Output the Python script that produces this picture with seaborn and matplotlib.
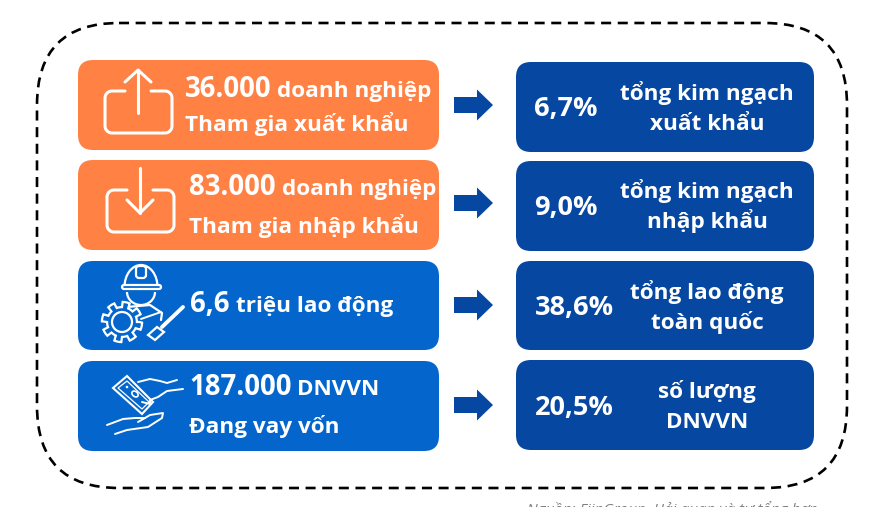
import numpy as np
import seaborn as sns
import matplotlib.pyplot as plt
from matplotlib.patches import FancyBboxPatch, FancyArrow, Circle, Polygon, Arc, Ellipse

# ---------------------------data-----------------------------------
left_big = ['36.000', '83.000', '6,6', '187.000']
left_unit = ['doanh nghiệp', 'doanh nghiệp', 'triệu lao động', 'DNVVN']
left_sub = ['Tham gia xuất khẩu', 'Tham gia nhập khẩu', '', 'Đang vay vốn']
pct = ['6,7%', '9,0%', '38,6%', '20,5%']
right_l1 = ['tổng kim ngạch', 'tổng kim ngạch', 'tổng lao động', 'số lượng']
right_l2 = ['xuất khẩu', 'nhập khẩu', 'toàn quốc', 'DNVVN']
source = 'Nguồn: FiinGroup, Hải quan và tự tổng hợp'

ORANGE = '#FF8144'
BLUE = '#0466CC'
NAVY = '#0647A1'

sns.set_theme(style='white')
plt.rcParams['font.family'] = ['Open Sans', 'DejaVu Sans']

fig, ax = plt.subplots(figsize=(8.8, 5.07), dpi=100)
fig.subplots_adjust(0, 0, 1, 1)
ax.set_xlim(0, 880)
ax.set_ylim(507, 0)
sns.despine(ax=ax, left=True, bottom=True)
ax.set_xticks([])
ax.set_yticks([])


def card(x0, y0, x1, y1, color, r=15):
    ax.add_patch(FancyBboxPatch((x0 + r, y0 + r), x1 - x0 - 2 * r, y1 - y0 - 2 * r,
                                boxstyle=f'round,pad={r},rounding_size={r}',
                                fc=color, ec='none', zorder=2))


def stroke(pts, lw=2.0):
    pts = np.array(pts, dtype=float)
    ax.plot(pts[:, 0], pts[:, 1], color='white', lw=lw, solid_capstyle='round',
            solid_joinstyle='round', zorder=4)


def tray(x0, y0, x1, y1, gap0, gap1, r=7, lw=2.2):
    # rounded box with an opening in the top edge for the arrow
    a = np.linspace(0, np.pi / 2, 8)
    pts = [(gap0, y0)]
    pts += [(x0 + r - r * np.sin(t), y0 + r - r * np.cos(t)) for t in a]
    pts += [(x0 + r - r * np.cos(t), y1 - r + r * np.sin(t)) for t in a]
    pts += [(x1 - r + r * np.sin(t), y1 - r + r * np.cos(t)) for t in a]
    pts += [(x1 - r + r * np.cos(t), y0 + r - r * np.sin(t)) for t in a]
    pts += [(gap1, y0)]
    stroke(pts, lw)


# dashed outer frame
r = 82
ax.add_patch(FancyBboxPatch((37 + r, 23 + r), 810 - 2 * r, 465 - 2 * r,
                            boxstyle=f'round,pad={r},rounding_size={r}',
                            fc='none', ec='black', lw=1.9, ls=(0, (3.8, 2.5)), zorder=1))

left_y = [(60, 150), (160, 250), (261, 350), (361, 451)]
right_y = [(62, 152), (161, 251), (261, 350), (360, 450)]
left_col = [ORANGE, ORANGE, BLUE, BLUE]
text_x = [185, 189, 190, 189]
big_base = [97, 195, 312, 395]
sub_base = [131, 233, 0, 433]
unit_x = [277, 282, 236, 297]
arrow_y = [105, 203, 305, 405]
pct_x = [566, 566, 574, 574]
pct_base = [116, 215, 315, 415]
l1_base = [100, 198, 299, 398]
l2_base = [130, 228, 329, 428]

for i in range(4):
    card(78, left_y[i][0], 439, left_y[i][1], left_col[i])
    card(516, right_y[i][0], 814, right_y[i][1], NAVY)
    ax.text(text_x[i], big_base[i], left_big[i], color='white', fontsize=19.8, fontweight='bold',
            va='baseline', ha='left', zorder=5)
    ax.text(unit_x[i], big_base[i], left_unit[i], color='white', fontsize=16.2, fontweight='bold',
            va='baseline', ha='left', zorder=5)
    if left_sub[i]:
        ax.text(text_x[i], sub_base[i], left_sub[i], color='white', fontsize=16.2, fontweight='bold',
                va='baseline', ha='left', zorder=5)
    ax.add_patch(FancyArrow(454, arrow_y[i], 39, 0, width=16, head_width=31, head_length=16,
                            length_includes_head=True, fc=NAVY, ec='none', zorder=3))
    ax.text(pct_x[i], pct_base[i], pct[i], color='white', fontsize=19.5,
            fontweight='bold', va='baseline', ha='center', zorder=5)
    ax.text(707, l1_base[i], right_l1[i], color='white', fontsize=16.2, fontweight='bold',
            va='baseline', ha='center', zorder=5)
    ax.text(707, l2_base[i], right_l2[i], color='white', fontsize=16.2, fontweight='bold',
            va='baseline', ha='center', zorder=5)

ax.text(672, 514, source, color='#7f7f7f', fontsize=11, style='italic', ha='center', va='baseline',
        zorder=5)

# ---------------------------icons-----------------------------------
# upload
tray(105, 91, 172, 133, 125, 151)
stroke([(138, 113), (138, 70)], 2.2)
stroke([(125, 82), (138, 70), (151, 82)], 2.2)
# download
tray(107, 190, 174, 232, 127, 153)
stroke([(140, 213), (140, 168)], 2.2)
stroke([(127, 200), (140, 213), (153, 200)], 2.2)

# worker
ax.add_patch(Arc((141, 287), 33, 44, theta1=180, theta2=360, ec='white', lw=1.6, zorder=4))
ax.add_patch(FancyBboxPatch((122, 285), 39, 4, boxstyle='round,pad=0,rounding_size=2',
                            fc=BLUE, ec='white', lw=1.6, zorder=4))
ax.add_patch(FancyBboxPatch((136, 266), 10, 12, boxstyle='round,pad=0,rounding_size=3',
                            fc=BLUE, ec='white', lw=1.6, zorder=4))
ax.add_patch(Arc((141, 292), 28, 26, theta1=0, theta2=180, ec='white', lw=1.6, zorder=4))
stroke([(127, 307), (150, 305), (162, 313), (161, 320)], 1.6)
stroke([(141, 319), (161, 312)], 1.4)
gear_t = np.linspace(0, 2 * np.pi, 193)
gear_r = 17.5 + 2.6 * np.sign(np.sin(8 * gear_t))
ax.fill(122 + gear_r * np.cos(gear_t), 322 + gear_r * np.sin(gear_t), fc=BLUE, ec='white', lw=1.6, zorder=4)
ax.add_patch(Circle((122, 322), 10, fc=BLUE, ec='white', lw=1.6, zorder=5))
stroke([(183, 307), (162, 327)], 2.8)
ax.add_patch(Polygon([(148, 335), (157, 327), (164, 332), (155, 340)], closed=True,
                     fc=BLUE, ec='white', lw=1.6, zorder=5))

# money and hands
ax.add_patch(Polygon([(127, 376), (153, 402), (142, 414), (113, 388)], closed=True,
                     fc='none', ec='white', lw=1.5, zorder=4))
ax.add_patch(Polygon([(127, 381), (149, 402), (142, 409), (118, 388)], closed=True,
                     fc='none', ec='white', lw=0.9, zorder=4))
ax.add_patch(Ellipse((135, 394), 7, 5, angle=40, fc='none', ec='white', lw=1.2, zorder=4))
ax.add_patch(Circle((127, 387), 1.3, fc='white', ec='none', zorder=4))
# upper hand
stroke([(138, 382), (150, 379), (160, 381), (167, 383), (177, 380)], 1.4)
stroke([(183, 389), (167, 391), (158, 397), (150, 400), (150, 404), (142, 402)], 1.4)
# lower hand
stroke([(107, 425), (123, 419), (135, 418), (145, 418), (150, 415), (163, 413), (162, 418), (148, 427), (127, 430), (115, 434)], 1.4)
stroke([(145, 418), (138, 422)], 1.4)

fig.savefig('out.png', dpi=100, facecolor='white')
